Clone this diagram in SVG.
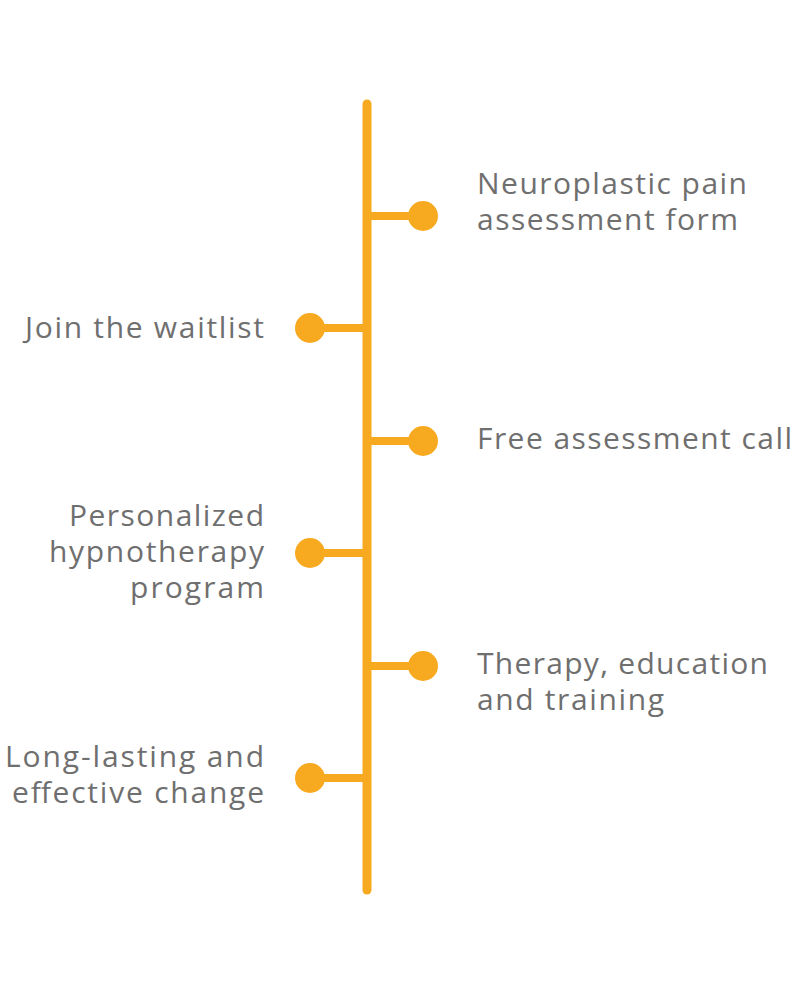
<svg xmlns="http://www.w3.org/2000/svg" width="800" height="1000" viewBox="0 0 800 1000">
<style>
.ln{stroke:#F7AA20;stroke-width:9;stroke-linecap:round;fill:none}
.br{stroke:#F7AA20;stroke-width:8;fill:none}
.dot{fill:#F7AA20}
.t{font-family:"Open Sans","Noto Sans",sans-serif;font-size:30px;fill:#6F6F6F}
.r{text-anchor:start}
.l{text-anchor:end}
</style>
<rect width="800" height="1000" fill="#FFFFFF"/>
<g id="connectors">
<line class="ln" x1="367" y1="104" x2="367" y2="890"/>
<line class="br" x1="367" y1="216" x2="423" y2="216"/>
<line class="br" x1="310" y1="328" x2="367" y2="328"/>
<line class="br" x1="367" y1="441" x2="423" y2="441"/>
<line class="br" x1="310" y1="553" x2="367" y2="553"/>
<line class="br" x1="367" y1="666" x2="423" y2="666"/>
<line class="br" x1="310" y1="778" x2="367" y2="778"/>
</g>
<g id="n1"><circle class="dot" cx="423" cy="216" r="15"/><text class="t r" x="477" y="194" textLength="270" lengthAdjust="spacing">Neuroplastic pain</text><text class="t r" x="477" y="230" textLength="261" lengthAdjust="spacing">assessment form</text></g>
<g id="n2"><circle class="dot" cx="310" cy="328" r="15"/><text class="t l" x="264" y="338" textLength="239" lengthAdjust="spacing">Join the waitlist</text></g>
<g id="n3"><circle class="dot" cx="423" cy="441" r="15"/><text class="t r" x="477" y="449" textLength="315" lengthAdjust="spacing">Free assessment call</text></g>
<g id="n4"><circle class="dot" cx="310" cy="553" r="15"/><text class="t l" x="264" y="526" textLength="195" lengthAdjust="spacing">Personalized</text><text class="t l" x="264" y="562" textLength="215" lengthAdjust="spacing">hypnotherapy</text><text class="t l" x="264" y="598" textLength="134" lengthAdjust="spacing">program</text></g>
<g id="n5"><circle class="dot" cx="423" cy="666" r="15"/><text class="t r" x="477" y="674" textLength="291" lengthAdjust="spacing">Therapy, education</text><text class="t r" x="477" y="710" textLength="187" lengthAdjust="spacing">and training</text></g>
<g id="n6"><circle class="dot" cx="310" cy="778" r="15"/><text class="t l" x="264" y="767" textLength="259" lengthAdjust="spacing">Long-lasting and</text><text class="t l" x="264" y="803" textLength="252" lengthAdjust="spacing">effective change</text></g>
</svg>
